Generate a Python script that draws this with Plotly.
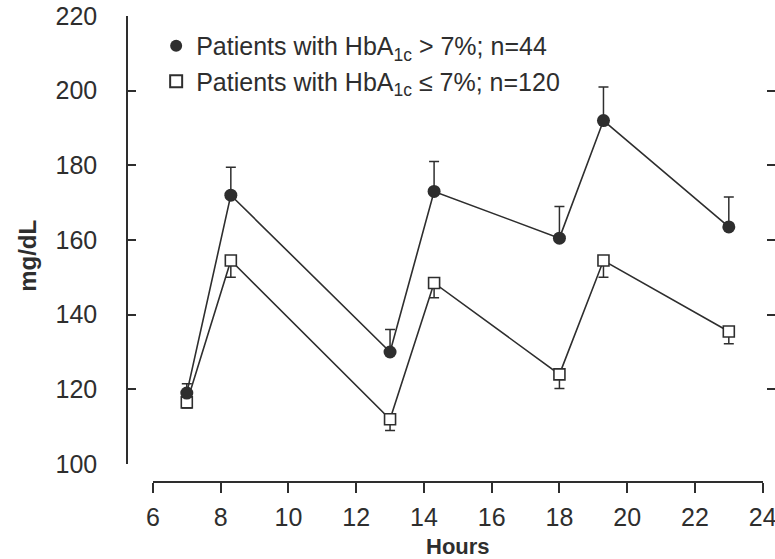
import plotly.graph_objects as go

hours = [7, 8.3, 13, 14.3, 18, 19.3, 23]
high_vals = [119, 172, 130, 173, 160.5, 192, 163.5]
high_err_up = [2.5, 7.5, 6, 8, 8.5, 9, 8]
low_vals = [116.5, 154.5, 112, 148.5, 124, 154.5, 135.5]
low_err_down = [1.5, 4.5, 3, 4, 3.8, 4.5, 3.3]

x_ticks = [6, 8, 10, 12, 14, 16, 18, 20, 22, 24]
y_ticks = [100, 120, 140, 160, 180, 200, 220]

high_name = "Patients with HbA<sub>1c</sub> > 7%; n=44"
low_name = "Patients with HbA<sub>1c</sub> ≤ 7%; n=120"
x_title = "Hours"
y_title = "mg/dL"

INK = "#2e2e2e"
FONT = "Liberation Sans, Arial, sans-serif"

fig = go.Figure()

fig.add_trace(go.Scatter(
    x=hours, y=low_vals, mode="lines+markers", showlegend=False,
    line=dict(color=INK, width=1.6),
    marker=dict(symbol="square", size=11, color="white", line=dict(color=INK, width=1.6)),
    error_y=dict(type="data", symmetric=False, array=[0] * len(low_err_down),
                 arrayminus=low_err_down, color=INK, thickness=1.5, width=5),
))
fig.add_trace(go.Scatter(
    x=hours, y=high_vals, mode="lines+markers", showlegend=False,
    line=dict(color=INK, width=1.6),
    marker=dict(symbol="circle", size=13, color=INK),
    error_y=dict(type="data", symmetric=False, array=high_err_up,
                 arrayminus=[0] * len(high_err_up), color=INK, thickness=1.5, width=5),
))

# legend-only entries (marker without line)
fig.add_trace(go.Scatter(x=[None], y=[None], mode="markers", name=high_name,
                         marker=dict(symbol="circle", size=12, color=INK)))
fig.add_trace(go.Scatter(x=[None], y=[None], mode="markers", name=low_name,
                         marker=dict(symbol="square", size=10, color="white",
                                     line=dict(color=INK, width=1.6))))

# transparent copy of the data on the right-hand mirrored tick axis
fig.add_trace(go.Scatter(x=hours, y=low_vals, yaxis="y2", mode="markers",
                         marker=dict(opacity=0), showlegend=False, hoverinfo="skip"))

fig.update_layout(
    width=775, height=559,
    margin=dict(l=127, r=0, t=16, b=77, autoexpand=False),
    paper_bgcolor="white", plot_bgcolor="white",
    font=dict(family=FONT, size=25, color=INK),
    xaxis=dict(
        range=[6, 24], domain=[0.040, 0.981], anchor="free", position=0,
        tickvals=x_ticks, ticks="outside", ticklen=10, tickwidth=1.5, tickcolor=INK,
        showline=True, linecolor=INK, linewidth=1.5, showgrid=False, zeroline=False,
        ticklabelstandoff=3, ticklabeloverflow="allow", automargin=False,
        title=dict(text="<b>" + x_title + "</b>", standoff=10, font=dict(size=22)),
    ),
    yaxis=dict(
        range=[100, 220], domain=[0.0386, 1], anchor="free", position=0,
        tickvals=y_ticks, ticks="inside", ticklen=8, tickwidth=1.5, tickcolor=INK,
        showline=True, linecolor=INK, linewidth=1.5, showgrid=False, zeroline=False,
        ticklabelstandoff=24, ticklabeloverflow="allow", automargin=False,
    ),
    yaxis2=dict(
        range=[100, 220], overlaying="y", side="right", anchor="free", position=1,
        tickvals=y_ticks, ticks="inside", ticklen=8, tickwidth=1.5, tickcolor=INK,
        showline=False, showgrid=False, zeroline=False, showticklabels=False,
        automargin=False,
    ),
    legend=dict(x=0.045, y=0.985, xanchor="left", yanchor="top",
                bgcolor="rgba(0,0,0,0)", font=dict(size=25), tracegroupgap=0,
                itemsizing="constant"),
    annotations=[dict(text="<b>" + y_title + "</b>", textangle=-90,
                      xref="paper", yref="paper", x=-0.153, y=0.485,
                      xanchor="center", yanchor="middle", showarrow=False,
                      font=dict(size=24))],
)

fig.write_html("out.html", config={"displayModeBar": False},
               post_script="document.body.style.margin='0';document.body.style.padding='0';")
